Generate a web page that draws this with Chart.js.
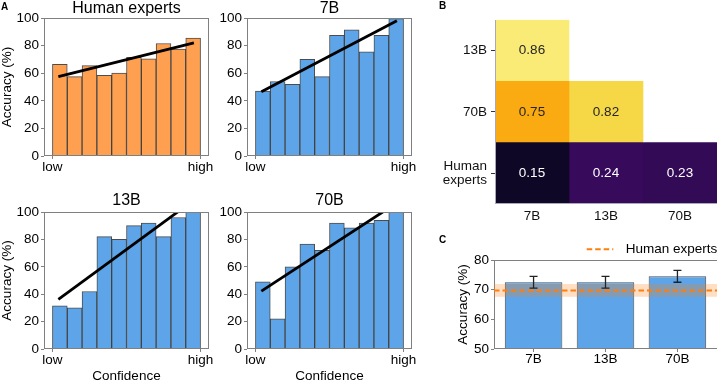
<!DOCTYPE html>
<html>
<head>
<meta charset="utf-8">
<script src="https://cdn.jsdelivr.net/npm/chart.js@4.4.1/dist/chart.umd.min.js"></script>
<style>
  body { margin: 0; width: 717px; height: 381px; overflow: hidden; background: #fff; position: relative;
         font-family: "Liberation Sans", Arial, sans-serif; }
  canvas { position: absolute; }
  .tag { position: absolute; font-weight: bold; font-size: 10px; line-height: 10px; }
</style>
</head>
<body>
<canvas id="histHuman"></canvas>
<canvas id="hist7B"></canvas>
<canvas id="hist13B"></canvas>
<canvas id="hist70B"></canvas>
<canvas id="agreement"></canvas>
<canvas id="modelAccuracy"></canvas>
<div class="tag" style="left:1px;top:2px">A</div>
<div class="tag" style="left:439px;top:1px">B</div>
<div class="tag" style="left:439px;top:235px">C</div>
<script>
// --- DATA ---

// panel A: accuracy per confidence bin (10 bins from low to high)
const binCenters = [0.05, 0.15, 0.25, 0.35, 0.45, 0.55, 0.65, 0.75, 0.85, 0.95];
const accHuman = [66.5, 57.5, 65.5, 58.5, 60, 71.5, 70.5, 81.5, 77.5, 85.5];
const acc7B = [47, 54, 52, 70, 57.5, 87.5, 91.5, 75.5, 87.5, 99.5];
const acc13B = [31.5, 30, 42, 82, 80, 90, 92, 82, 96, 100];
const acc70B = [49, 22, 60, 76.5, 72, 92, 88.5, 92, 94, 100];
const confTicks = ["low", "high"];

// fitted trend lines: start/end confidence and accuracy
const trendX = [0.04, 0.955];
const trendHuman = [57.5, 82];
const trend7B = [46.6, 98];
const trend13B = [36.3, 108.7];
const trend70B = [42.3, 106.7];

// panel B: agreement matrix (lower triangle)
const heatRows = ["13B", "70B", ["Human", "experts"]];
const heatCols = ["7B", "13B", "70B"];
const agreeValues = [
  [0.86, null, null],
  [0.75, 0.82, null],
  [0.15, 0.24, 0.23],
];

// panel C: overall accuracy
const models = ["7B", "13B", "70B"];
const modelAcc = [72.5, 72.5, 74.5];
const modelErrLow = [70.5, 70.5, 72.5];
const modelErrHigh = [74.5, 74.5, 76.5];
const humanAcc = 69.7;
const humanBand = [67.6, 71.9];

// --- SETUP ---
const FONT = '"Liberation Sans", Arial, sans-serif';
Chart.defaults.font.family = FONT;
Chart.defaults.font.size = 13.5;
Chart.defaults.color = "#000";
Chart.defaults.animation = false;

const BLUE = "#5da5e8";
const ORANGE = "#ffa050";
const EDGE = "rgba(45,45,45,0.85)";
const SPINE = "#808080";

// inferno colormap stops, used with vmin 0.1 / vmax 0.9
const INFERNO = ["#000004", "#160b39", "#420a68", "#6a176e", "#932667", "#bc3754",
  "#dd513a", "#f37819", "#fca50a", "#f6d746", "#fcffa4"];

function inferno(v) {
  const t = Math.min(Math.max((v - 0.1) / 0.8, 0), 1) * 10;
  const i = Math.min(Math.floor(t), 9);
  const f = t - i;
  const a = hexRgb(INFERNO[i]), b = hexRgb(INFERNO[i + 1]);
  const c = a.map((x, k) => Math.round(x + (b[k] - x) * f));
  return `rgb(${c[0]},${c[1]},${c[2]})`;
}
function hexRgb(h) {
  return [1, 3, 5].map((k) => parseInt(h.slice(k, k + 2), 16));
}

// put the canvas so that the chart area lands on the given page rectangle
function placeCanvas(id, area, yW, topH, xH, padR) {
  const c = document.getElementById(id);
  const left = area.l - yW;
  const top = area.t - topH;
  const w = area.r - left + padR;
  const h = area.b - top + xH;
  c.width = w;
  c.height = h;
  c.style.left = left + "px";
  c.style.top = top + "px";
  c.style.width = w + "px";
  c.style.height = h + "px";
  return c;
}

// draws the axes box (matplotlib spines), sides given as string "ltrb"
const framePlugin = {
  id: "frame",
  afterDatasetsDraw(chart, args, opts) {
    const { left, right, top, bottom } = chart.chartArea;
    const ctx = chart.ctx;
    const sides = opts.sides || "ltrb";
    const l = Math.round(left) + 0.5, r = Math.round(right) - 0.5;
    const t = Math.round(top) + 0.5, b = Math.round(bottom) - 0.5;
    ctx.save();
    ctx.strokeStyle = opts.color || SPINE;
    ctx.lineWidth = 1;
    ctx.beginPath();
    if (sides.includes("l")) { ctx.moveTo(l, t - 0.5); ctx.lineTo(l, b + 0.5); }
    if (sides.includes("r")) { ctx.moveTo(r, t - 0.5); ctx.lineTo(r, b + 0.5); }
    if (sides.includes("t")) { ctx.moveTo(l - 0.5, t); ctx.lineTo(r + 0.5, t); }
    if (sides.includes("b")) { ctx.moveTo(l - 0.5, b); ctx.lineTo(r + 0.5, b); }
    ctx.stroke();
    ctx.restore();
  },
};

// --- PANEL A: HISTOGRAMS ---
function histChart(id, area, title, values, trend, color, yTitle, xTitle) {
  const yW = yTitle ? 45 : 32;
  const topH = xTitle ? 21 : 19;
  const xH = xTitle ? 35 : 22;
  const canvas = placeCanvas(id, area, yW, topH, xH, 16);
  new Chart(canvas, {
    type: "bar",
    data: {
      datasets: [
        {
          type: "line",
          data: trendX.map((x, i) => ({ x: x, y: trend[i] })),
          borderColor: "#000",
          borderWidth: 2.8,
          pointRadius: 0,
          clip: 0,
          order: 0,
        },
        {
          data: binCenters.map((x, i) => ({ x: x, y: values[i] })),
          backgroundColor: color,
          borderColor: EDGE,
          borderWidth: 1,
          categoryPercentage: 1,
          barPercentage: 1,
          order: 1,
        },
      ],
    },
    options: {
      responsive: false,
      animation: false,
      layout: { padding: { left: 0, top: 0, right: 16, bottom: 0 } },
      plugins: {
        legend: { display: false },
        tooltip: { enabled: false },
        title: {
          display: true,
          text: title,
          fullSize: false,
          color: "#000",
          font: { size: 16, weight: "normal", lineHeight: 1.25 },
          padding: { top: 0, bottom: xTitle ? 1 : -1 },
        },
        frame: { color: SPINE },
      },
      scales: {
        x: {
          type: "linear",
          min: -0.057,
          max: 1.057,
          offset: false,
          border: { display: false },
          grid: { offset: false, drawOnChartArea: false, tickLength: 3, color: SPINE },
          afterBuildTicks: (s) => { s.ticks = [{ value: 0 }, { value: 1 }]; },
          ticks: { padding: 0, autoSkip: false, maxRotation: 0, callback: (v, i) => confTicks[i] },
          title: { display: xTitle, text: "Confidence", padding: 0 },
          afterFit: (s) => { s.height = xH; },
        },
        y: {
          min: 0,
          max: 100,
          border: { display: false },
          grid: { drawOnChartArea: false, tickLength: 3, color: SPINE },
          ticks: { stepSize: 20, padding: 2 },
          title: { display: yTitle, text: "Accuracy (%)", padding: 0 },
          afterFit: (s) => { s.width = yW; },
        },
      },
    },
    plugins: [framePlugin],
  });
}

histChart("histHuman", { l: 44, r: 209, t: 18, b: 156 }, "Human experts", accHuman, trendHuman, ORANGE, true, false);
histChart("hist7B", { l: 247, r: 412, t: 18, b: 156 }, "7B", acc7B, trend7B, BLUE, false, false);
histChart("hist13B", { l: 44, r: 209, t: 212, b: 349 }, "13B", acc13B, trend13B, BLUE, true, true);
histChart("hist70B", { l: 247, r: 412, t: 212, b: 349 }, "70B", acc70B, trend70B, BLUE, false, true);

// --- PANEL B: AGREEMENT HEATMAP ---
const cellTextPlugin = {
  id: "cellText",
  afterDatasetsDraw(chart) {
    const ctx = chart.ctx;
    ctx.save();
    ctx.font = `13.5px ${FONT}`;
    ctx.textAlign = "center";
    ctx.textBaseline = "middle";
    chart.data.datasets.forEach((ds, c) => {
      chart.getDatasetMeta(c).data.forEach((bar, r) => {
        const v = agreeValues[r][c];
        if (v === null) return;
        const p = bar.getCenterPoint();
        ctx.fillStyle = v < 0.5 ? "#fff" : "#262626";
        ctx.fillText(v.toFixed(2), p.x, p.y);
      });
    });
    ctx.restore();
  },
};

function heatChart() {
  const area = { l: 495, r: 717, t: 19, b: 204 };
  const canvas = placeCanvas("agreement", area, 60, 18, 26, 0);
  const datasets = heatCols.map((col, c) => ({
    label: col,
    data: heatRows.map((row, r) => (agreeValues[r][c] === null ? null : 1)),
    backgroundColor: heatRows.map((row, r) =>
      agreeValues[r][c] === null ? "transparent" : inferno(agreeValues[r][c])),
    borderWidth: 0,
    categoryPercentage: 1,
    barPercentage: 1,
  }));
  new Chart(canvas, {
    type: "bar",
    data: { labels: heatRows, datasets: datasets },
    options: {
      indexAxis: "y",
      responsive: false,
      animation: false,
      layout: { padding: { left: 0, top: 18, right: 0, bottom: 0 } },
      plugins: {
        legend: { display: false },
        tooltip: { enabled: false },
        frame: { color: "#a8a8b8", sides: "lb" },
      },
      scales: {
        x: {
          type: "linear",
          stacked: true,
          min: 0,
          max: 3,
          offset: false,
          border: { display: false },
          grid: { offset: false, display: true, drawOnChartArea: false, drawTicks: false },
          afterBuildTicks: (s) => { s.ticks = [{ value: 0.5 }, { value: 1.5 }, { value: 2.5 }]; },
          ticks: { padding: 4.5, autoSkip: false, maxRotation: 0, color: "#111",
                   callback: (v, i) => heatCols[i] },
          afterFit: (s) => { s.height = 26; },
        },
        y: {
          stacked: true,
          border: { display: false },
          grid: { offset: false, drawOnChartArea: false, tickLength: 4, color: "#333" },
          ticks: { padding: 4, color: "#111", font: { size: 13.5, lineHeight: 1.1 } },
          afterFit: (s) => { s.width = 60; },
        },
      },
    },
    plugins: [framePlugin, cellTextPlugin],
  });
}
heatChart();

// --- PANEL C: OVERALL ACCURACY ---
const humanRefPlugin = {
  id: "humanRef",
  afterDatasetsDraw(chart) {
    const ctx = chart.ctx;
    const { left, right, top } = chart.chartArea;
    const xs = chart.scales.x, ys = chart.scales.y;
    ctx.save();
    // human experts band + mean line
    const bTop = ys.getPixelForValue(humanBand[1]);
    const bBot = ys.getPixelForValue(humanBand[0]);
    ctx.fillStyle = "rgba(255,127,14,0.25)";
    ctx.fillRect(left, bTop, right - left, bBot - bTop);
    ctx.strokeStyle = "#ff7f0e";
    ctx.lineWidth = 2;
    ctx.setLineDash([5.5, 3]);
    const yh = ys.getPixelForValue(humanAcc);
    ctx.beginPath();
    ctx.moveTo(left, yh);
    ctx.lineTo(right, yh);
    ctx.stroke();
    // error bars
    ctx.setLineDash([]);
    ctx.strokeStyle = "#222";
    ctx.lineWidth = 1.3;
    models.forEach((m, i) => {
      const x = xs.getPixelForValue(i);
      const y1 = ys.getPixelForValue(modelErrHigh[i]);
      const y2 = ys.getPixelForValue(modelErrLow[i]);
      ctx.beginPath();
      ctx.moveTo(x, y1); ctx.lineTo(x, y2);
      ctx.moveTo(x - 4, y1); ctx.lineTo(x + 4, y1);
      ctx.moveTo(x - 4, y2); ctx.lineTo(x + 4, y2);
      ctx.stroke();
    });
    // legend
    const ly = top - 10.7;
    ctx.strokeStyle = "#ff7f0e";
    ctx.lineWidth = 2;
    ctx.setLineDash([5.5, 3]);
    ctx.beginPath();
    ctx.moveTo(right - 130.3, ly);
    ctx.lineTo(right - 103.7, ly);
    ctx.stroke();
    ctx.fillStyle = "#000";
    ctx.font = `13.5px ${FONT}`;
    ctx.textAlign = "left";
    ctx.textBaseline = "middle";
    ctx.fillText("Human experts", right - 91.3, ly);
    ctx.restore();
  },
};

function accuracyChart() {
  const area = { l: 494, r: 717, t: 260, b: 349 };
  const canvas = placeCanvas("modelAccuracy", area, 39, 20, 24, 0);
  new Chart(canvas, {
    type: "bar",
    data: {
      datasets: [{
        data: models.map((m, i) => ({ x: i, y: modelAcc[i] })),
        backgroundColor: BLUE,
        borderColor: EDGE,
        borderWidth: 1,
        categoryPercentage: 0.8,
        barPercentage: 1,
        clip: 0,
      }],
    },
    options: {
      responsive: false,
      animation: false,
      layout: { padding: { left: 0, top: 20, right: 0, bottom: 0 } },
      plugins: {
        legend: { display: false },
        tooltip: { enabled: false },
        frame: { color: SPINE, sides: "ltb" },
      },
      scales: {
        x: {
          type: "linear",
          min: -0.55,
          max: 2.55,
          offset: false,
          border: { display: false },
          grid: { offset: false, drawOnChartArea: false, tickLength: 3, color: SPINE },
          afterBuildTicks: (s) => { s.ticks = [{ value: 0 }, { value: 1 }, { value: 2 }]; },
          ticks: { padding: -1, autoSkip: false, maxRotation: 0, callback: (v, i) => models[i] },
          afterFit: (s) => { s.height = 24; },
        },
        y: {
          min: 50,
          max: 80,
          border: { display: false },
          grid: { drawOnChartArea: false, tickLength: 3, color: SPINE },
          ticks: { stepSize: 10, padding: 2 },
          title: { display: true, text: "Accuracy (%)", padding: 0 },
          afterFit: (s) => { s.width = 39; },
        },
      },
    },
    plugins: [framePlugin, humanRefPlugin],
  });
}
accuracyChart();
</script>
</body>
</html>
